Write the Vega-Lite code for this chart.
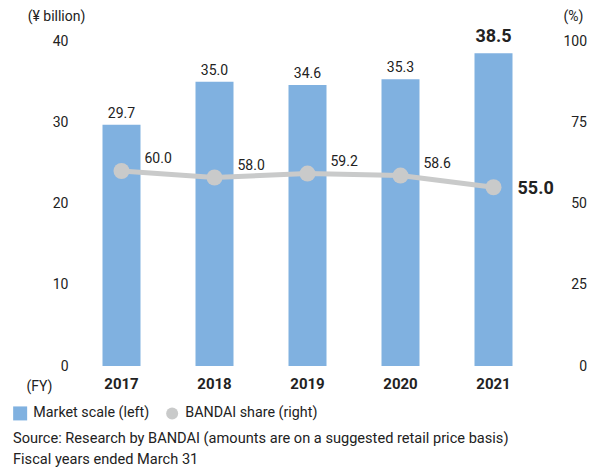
{
  "$schema": "https://vega.github.io/schema/vega-lite/v6.json",
  "autosize": {"type": "none"},
  "width": 465,
  "height": 325,
  "padding": {"left": 75, "top": 41, "right": 54, "bottom": 102},
  "background": "white",
  "config": {
    "view": {"stroke": null},
    "font": "Roboto",
    "axis": {"domain": false, "ticks": false, "tickSize": 0, "grid": false, "labelFont": "Roboto", "labelFontSize": 14, "labelColor": "#222", "titleFont": "Roboto", "titleColor": "#222", "titleFontWeight": "normal", "titleFontSize": 14},
    "legend": {
      "orient": "none", "legendX": -62, "legendY": 365, "direction": "horizontal", "title": null,
      "labelFont": "Roboto", "labelFontSize": 14.3, "labelColor": "#222", "symbolOpacity": 1, "symbolStrokeWidth": 0,
      "labelOffset": 6, "columnPadding": 15, "symbolSize": 196
    }
  },
  "title": {
    "text": ["Source: Research by BANDAI (amounts are on a suggested retail price basis)", "Fiscal years ended March 31"],
    "orient": "bottom", "anchor": "start", "frame": "group", "dx": -62, "offset": 10,
    "font": "Roboto", "fontSize": 14.6, "fontWeight": "normal", "color": "#222", "lineHeight": 21
  },
  "data": {"values": [
    {"year": "2017", "market": 29.7, "share": 60.0},
    {"year": "2018", "market": 35.0, "share": 58.0},
    {"year": "2019", "market": 34.6, "share": 59.2},
    {"year": "2020", "market": 35.3, "share": 58.6},
    {"year": "2021", "market": 38.5, "share": 55.0}
  ]},
  "encoding": {
    "x": {"field": "year", "type": "nominal", "scale": {"paddingInner": 0, "paddingOuter": 0},
      "axis": {"labelAngle": 0, "labelFontWeight": "bold", "labelFontSize": 15, "labelPadding": 10, "title": "(FY)", "titleX": -36, "titleY": 20, "titleAlign": "center", "titleBaseline": "middle"}}
  },
  "layer": [
    {
      "encoding": {"y": {"field": "market", "type": "quantitative", "scale": {"domain": [0, 40]},
        "axis": {"values": [0, 10, 20, 30, 40], "labelPadding": 7, "title": "(¥ billion)", "titleAngle": 0, "titleX": -19, "titleY": -25, "titleAlign": "center", "titleBaseline": "middle"}}},
      "layer": [
        {"mark": {"type": "bar", "width": 38}, "encoding": {"color": {"datum": "Market scale (left)",
          "scale": {"domain": ["Market scale (left)", "BANDAI share (right)"], "range": ["#80b1e0", "#c9caca"]},
          "legend": {"encode": {"symbols": {"update": {
            "shape": {"signal": "datum.value === 'Market scale (left)' ? 'square' : 'circle'"},
            "size": {"signal": "datum.value === 'Market scale (left)' ? 196 : 144"}
          }}}}}}},
        {"transform": [{"filter": "datum.year !== '2021'"}], "mark": {"type": "text", "baseline": "bottom", "dy": -4, "fontSize": 14, "color": "#222"}, "encoding": {"text": {"field": "market", "format": ".1f"}}},
        {"transform": [{"filter": "datum.year === '2021'"}], "mark": {"type": "text", "baseline": "bottom", "dy": -7, "fontSize": 18, "fontWeight": "bold", "color": "#222"}, "encoding": {"text": {"field": "market", "format": ".1f"}}}
      ]
    },
    {
      "encoding": {"y": {"field": "share", "type": "quantitative", "scale": {"domain": [0, 100]},
        "axis": {"orient": "right", "values": [0, 25, 50, 75, 100], "labelAlign": "right", "labelPadding": 46.5, "title": "(%)", "titleAngle": 0, "titleX": 33, "titleY": -25, "titleAlign": "center", "titleBaseline": "middle"}}},
      "layer": [
        {"mark": {"type": "line", "color": "#c9caca", "strokeWidth": 5}},
        {"mark": {"type": "point", "filled": true, "size": 256, "opacity": 1, "shape": "circle"}, "encoding": {"color": {"datum": "BANDAI share (right)"}}},
        {"transform": [{"filter": "datum.year !== '2021'"}], "mark": {"type": "text", "align": "left", "baseline": "middle", "dx": 23, "dy": -12, "fontSize": 14, "color": "#222"}, "encoding": {"text": {"field": "share", "format": ".1f"}}},
        {"transform": [{"filter": "datum.year === '2021'"}], "mark": {"type": "text", "align": "left", "baseline": "middle", "dx": 24, "dy": 2, "fontSize": 18, "fontWeight": "bold", "color": "#222"}, "encoding": {"text": {"field": "share", "format": ".1f"}}}
      ]
    }
  ],
  "resolve": {"scale": {"y": "independent"}}
}
